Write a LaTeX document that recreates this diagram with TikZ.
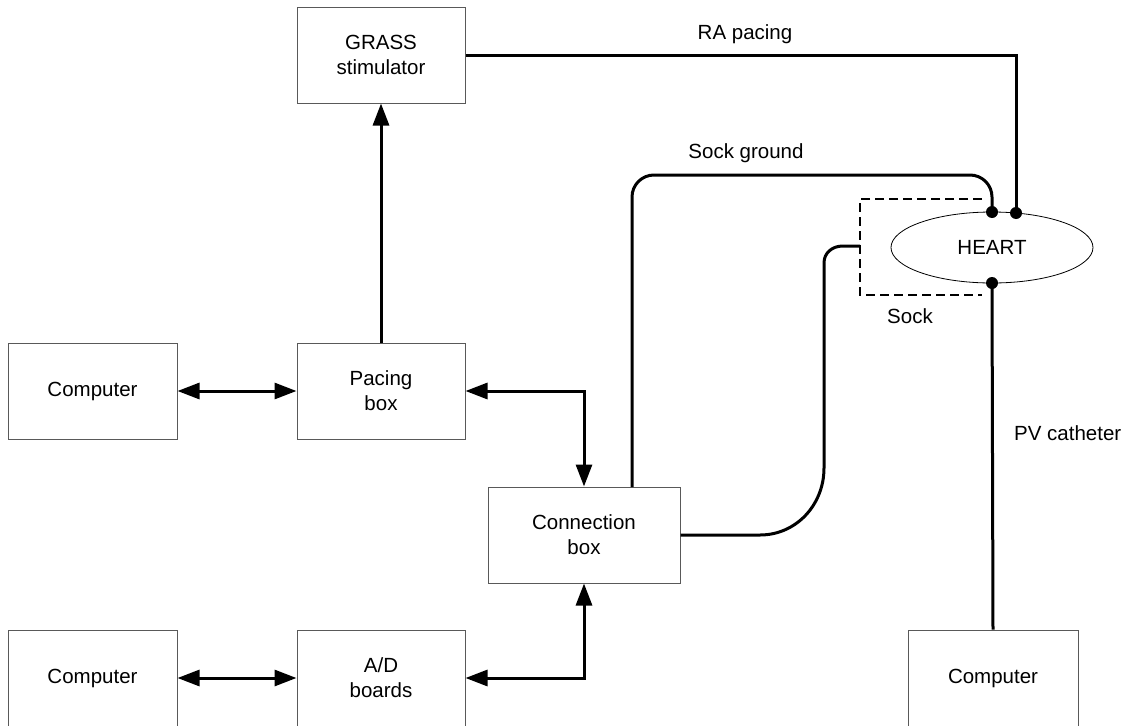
\documentclass[tikz,border=0pt]{standalone}
\usepackage{fontspec}
\setmainfont{Liberation Sans}
\usetikzlibrary{arrows.meta,shapes.geometric}
\begin{document}
\begin{tikzpicture}[x=1pt,y=-1pt,
  box/.style={draw=black!65,line width=1pt,rectangle,minimum width=168pt,minimum height=96pt,inner sep=0pt,align=center,font=\fontsize{20.5}{25}\selectfont},
  wire/.style={line width=3pt},
  arr/.style={wire,-{Triangle[length=22pt,width=16pt]}},
  darr/.style={wire,{Triangle[length=22pt,width=16pt]}-{Triangle[length=22pt,width=16pt]}},
  lbl/.style={font=\fontsize{20.5}{25}\selectfont,inner sep=0pt},
  dot/.style={circle,fill=black,inner sep=0pt,minimum size=12pt}]
\useasboundingbox (0,0) rectangle (1136,726);
\node[box] (grass) at (381,55) {GRASS\\stimulator};
\node[box,minimum width=169pt] (comp1) at (92.5,391) {Computer};
\node[box] (pacing) at (381,391) {Pacing\\box};
\node[box,minimum width=192pt] (conn) at (584,535) {Connection\\box};
\node[box] (ad) at (381,678) {A/D\\boards};
\node[box,minimum width=169pt] (comp2) at (92.5,678) {Computer};
\node[box,minimum width=170pt] (comp3) at (993,678) {Computer};
\node[draw=black,line width=0.8pt,ellipse,minimum width=202pt,minimum height=71pt,inner sep=0pt,font=\fontsize{20.5}{25}\selectfont] (heart) at (992,247.5) {HEART};
% dots
\node[dot] (d1) at (992,212) {};
\node[dot] (d2) at (1016,213) {};
\node[dot] (d3) at (992,283) {};
% sock
\draw[line width=2.6pt,dash pattern=on 9pt off 5pt] (982,199) -- (860,199) -- (860,295) -- (982,295);
\coordinate (sockl) at (860,246);
% arrows
\draw[arr] (pacing) -- (grass);
\draw[darr] (comp1) -- (pacing);
\draw[darr] (comp2) -- (ad);
\draw[darr] (pacing.east) -| (conn.north);
\draw[darr] (ad.east) -| (conn.south);
% RA pacing
\draw[wire] (grass.east) -- (1016,55) -- (d2.center);
% sock ground
\coordinate (gs) at (632,487);
\draw[wire,rounded corners=22pt] (gs) -- (632,175) -- (992,175) -- (d1.center);
% sock wire
\draw[wire] (conn.east) -- (760,535) .. controls (796,535) and (824,505) .. (824,468) -- (824,263) .. controls (824,253) and (832,246) .. (843,246) -- (sockl);
% PV catheter
\draw[wire] (d3.center) -- (comp3.north);
% labels
\node[lbl] (lra) at (745,34) {RA pacing};
\node[lbl] (lsg) at (746,153) {Sock ground};
\node[lbl] (lsock) at (910,316) {Sock};
\node[lbl,anchor=west] (lpv) at (1014,433) {PV catheter};
\end{tikzpicture}
\end{document}
